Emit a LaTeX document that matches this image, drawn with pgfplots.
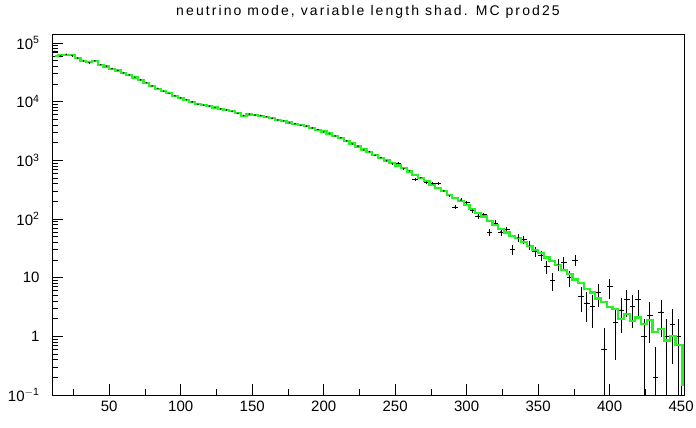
\documentclass[border=0pt]{standalone}
\usepackage{pgfplots}
\pgfplotsset{compat=1.18}
\usepackage{pgfplotstable}
\usepackage{fontspec}
\setmainfont{Liberation Sans}

\definecolor{mcgreen}{rgb}{0.15,0.95,0.15}

% bin centre, MC prediction, data
\pgfplotstableread{
x mc d
12 60300 72000
16 61700 60000
20 63100 64000
24 61700 61000
28 55000 55000
32 49000 49500
36 46800 46000
40 49000 49500
44 42700 43000
48 39800 40000
52 36300 36500
56 33900 34000
60 30900 31000
64 28500 28500
68 25700 26000
72 23400 23500
76 20900 21000
80 18600 18500
84 16600 16800
88 15100 15000
92 13800 13800
96 12600 12500
100 11600 11600
104 10700 10800
108 9770 9900
112 9120 9000
116 8710 8700
120 8320 8400
124 7940 7900
128 7500 7500
132 7160 7200
136 6840 6800
140 6310 6300
144 5750 5800
148 6030 6100
152 5960 5900
156 5750 5800
160 5500 5550
164 5250 5200
168 4900 4850
172 4680 4700
176 4420 4350
180 4170 4200
184 3980 3950
188 3800 3800
192 3590 3550
196 3310 3350
200 3090 3050
204 2850 2850
208 2630 2600
212 2400 2420
216 2140 2150
220 1930 1900
224 1720 1740
228 1530 1500
232 1380 1400
236 1230 1210
240 1100 1110
244 989 980
248 902 880
252 813 890
256 733 720
260 646 660
264 562 470
268 495 505
272 437 420
276 385 400
280 339 400
284 295 300
288 260 250
292 229 160
296 200 210
300 172 190
304 148 140
308 126 112
312 110 118
316 93 60
320 79 85
324 68 60
328 59 66
332 51 30
336 47 48
340 41 44
344 35 36
348 30 28
352 26 24
356 22 15.5
360 19 9
364 16.5 17
368 13.5 18
372 11.5 10
376 9.3 20
380 8.1 4.8
384 6.4 3.7
388 5.6 3.2
392 4.4 5.5
396 3.9 0.6
400 3.2 7
404 2.9 1.7
408 2.0 2.8
412 2.4 4.2
416 1.8 3.2
420 2.1 4.2
424 1.6 1.0
428 1.9 2.3
432 1.2 0.2
436 1.35 2.6
440 0.85 1.0
444 1.0 1.6
448 0.72 1.0
}\hist

\begin{document}
\begin{tikzpicture}
\useasboundingbox (-52pt,-33pt) rectangle (644pt,395pt);
\begin{axis}[
  at={(0,0)}, anchor=south west, scale only axis,
  width=632pt, height=361pt,
  xmin=10, xmax=452,
  ymode=log, log basis y=10, ymin=0.1, ymax=1.42e5,
  xtick={50,100,...,450},
  minor xtick={25,75,...,425},
  ytick={0.1,1,10,100,1000,10000,100000},
  yticklabels={10\textsuperscript{$-$1},1,10,10\textsuperscript{2},10\textsuperscript{3},10\textsuperscript{4},10\textsuperscript{5}},
  minor ytick={0.2,0.3,0.4,0.5,0.6,0.7,0.8,0.9,2,3,4,5,6,7,8,9,20,30,40,50,60,70,80,90,200,300,400,500,600,700,800,900,2000,3000,4000,5000,6000,7000,8000,9000,20000,30000,40000,50000,60000,70000,80000,90000},
  xtick pos=bottom, ytick pos=left,
  tick align=inside,
  major tick length=11pt, minor tick length=6pt,
  every tick/.style={black, line width=0.6pt},
  axis line style={line width=0.8pt},
  /pgf/number format/assume math mode=true,
  ticklabel style={font=\fontsize{15}{15}\selectfont},
  xticklabel style={yshift=-2pt},
  yticklabel style={xshift=-9pt},
  title={\addfontfeature{LetterSpace=15}neutrino mode, variable length shad. MC prod25},
  title style={at={(0.5,1)}, anchor=south, yshift=6pt, font=\fontsize{14}{14}\selectfont},
  clip=true,
]
% data with statistical error bars
\addplot[black, only marks, mark=*, mark size=0.5pt,
  error bars/.cd, x dir=both, x fixed=2, y dir=both, y explicit,
  error mark=none, error bar style={black, line width=0.8pt}]
  table[x=x, y=d,
        y error plus expr={sqrt(\thisrow{d})},
        y error minus expr={min(sqrt(\thisrow{d}), \thisrow{d}-0.06)}] {\hist};
% Monte Carlo prediction
\addplot[const plot mark mid, mcgreen, line width=2.2pt] table[x=x, y=mc] {\hist};
\addplot[mcgreen, line width=2.2pt] coordinates {(448,0.72) (451,0.72) (451,0.14)};
\end{axis}
\end{tikzpicture}
\end{document}
